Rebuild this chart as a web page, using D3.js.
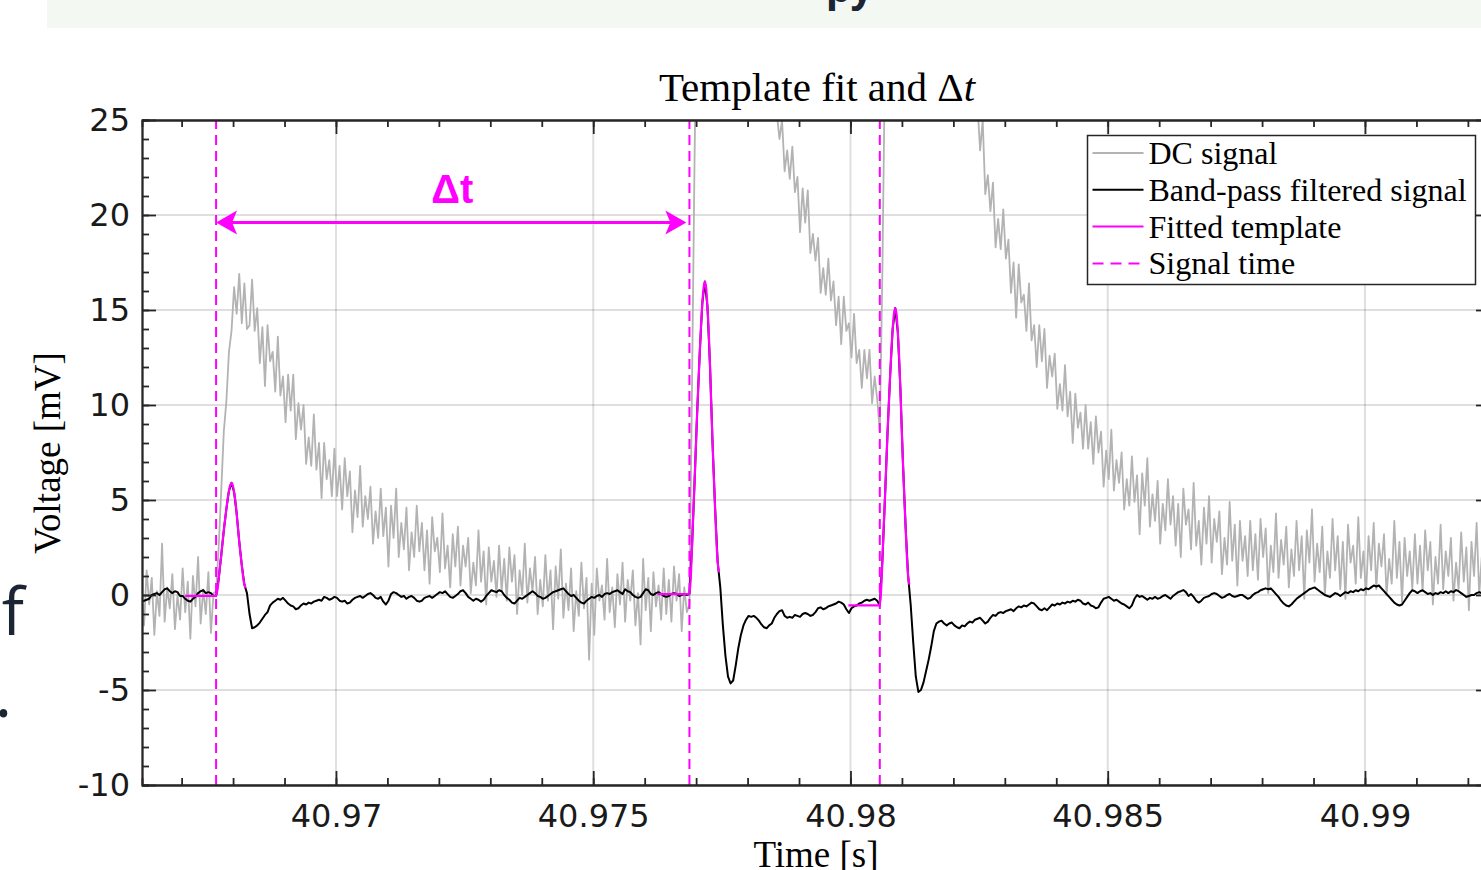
<html>
  <head>
    <title>Template fit and Δt</title>
    <meta charset="utf-8" />
    <script src="https://cdnjs.cloudflare.com/ajax/libs/d3/7.8.5/d3.min.js"></script>
    <style>
      body { margin: 0; background: #fff; }
      svg { display: block; }
      .serif { font-family: "Liberation Serif", "Times New Roman", serif; fill: #000; }
    </style>
  </head>
  <body>
    <svg width="1481" height="870"></svg>
  <script>
    // sample clock of the recording (one value every 50 us)
    const t0 = 40.96622, dt = 0.00005;

    // DC signal [mV]
    const dcSignal = [
      0.6, -1.6, 1.3, -0.5, 0.9, -2.1, 0.2, -1.1, 2.7, -1.4, 0.4, -0.7, 1.1, -1.8, 0.0, -1.3, 1.4, -0.9, 0.7, -2.3,
      1.0, -0.6, 2.0, -1.5, 0.3, -1.0, 1.2, -2.0, 0.1,
      0.2, 2.5, 5.5, 8.6, 10.2, 12.8, 13.9, 16.2, 14.8, 16.9, 14.3, 16.4, 14.0,
      14.2, 16.6, 13.9, 15.1, 12.2, 14.1, 11.0, 14.2, 12.3, 12.8,
      10.7, 13.6, 10.5, 11.5, 9.1, 11.6, 9.7, 11.6, 8.2, 10.1,
      8.7, 10.0, 6.9, 8.3, 6.8, 9.5, 6.6, 8.0, 5.1, 8.0,
      6.1, 7.1, 5.2, 7.7, 5.2, 6.8, 4.5, 7.2, 5.2, 6.5,
      3.3, 5.5, 4.1, 6.8, 3.6, 5.2, 4.0, 5.7, 2.7, 4.4,
      3.0, 5.6, 3.1, 4.6, 1.5, 4.7, 3.0, 5.6, 2.0, 3.8,
      2.4, 4.6, 1.3, 3.3, 2.0, 4.7, 2.3, 3.8, 1.3, 3.4,
      0.6, 4.1, 2.3, 3.0, 1.2, 4.3, 1.4, 2.6, 0.4, 3.2,
      1.5, 3.6, 0.5, 2.6, 1.5, 3.0, 0.1, 1.7, 0.5, 3.4,
      0.7, 2.3, -0.5, 2.5, 0.7, 1.8, -0.1, 2.6, 0.2, 1.9,
      -0.3, 2.5, 0.7, 2.1, -1.0, 1.3, 0.0, 2.7, -0.4, 1.4,
      0.2, 2.0, -1.0, 0.8, -0.6, 2.1, -0.3, 1.3, -1.8, 1.5,
      -0.2, 2.4, -1.2, 0.6, -0.8, 1.4, -1.9, 0.2, -1.1, 1.7,
      -0.7, 0.9, -3.4, 0.6, -2.1, 1.4, -0.3, 0.5, -1.3, 1.9,
      -0.9, 0.4, -1.7, 1.1, -0.5, 1.7, -1.4, 0.8, -0.3, 1.3,
      -1.6, 0.1, -2.6, 1.9, -0.8, 0.9, -1.9, 1.2, -0.6, 0.5,
      -1.3, 1.4, -1.0, 0.8, -1.4, 1.5, -0.3, 1.1, -1.9, 0.4,
      -0.9,
      -0.5, 11.0, 23.0, 33.0,
      37, 39, 36, 38, 35, 37, 34, 36, 33, 35, 32, 34, 31, 33, 30.5, 32, 29.5, 31, 29, 30.5,
      28, 29.5, 27.5, 29, 27, 28, 26.5, 27.5, 26, 27,
      25.3, 24.0, 25.0, 22.3, 23.4, 21.9, 23.6, 21.2, 22.0, 19.1,
      21.4, 19.6, 21.3, 18.0, 19.0, 17.6, 18.8, 15.9, 17.2, 15.8,
      17.7, 15.5, 16.5, 14.2, 15.7, 13.2, 15.7, 13.9, 14.3, 12.5,
      14.8, 12.2, 12.9, 10.9, 12.9, 11.4, 12.9, 10.1, 11.5, 10.3,
      8.6, 17.0, 28.0,
      40, 42, 39, 41, 38, 40, 37, 39, 36, 38, 35.5, 37, 35, 36.5, 34, 35.5, 33, 34.5, 32, 33.5,
      31, 32.5, 30.5, 31.5, 29.5, 31, 29, 30, 28, 29.5, 27.5, 28.5, 27, 28, 26.5,
      25.7, 23.4, 25.0, 21.1, 22.1, 20.2, 21.7, 18.3, 19.8, 18.2,
      20.3, 17.7, 18.7, 15.9, 17.5, 14.6, 17.4, 15.4, 15.8, 13.9,
      16.4, 13.4, 14.2, 12.0, 14.2, 12.3, 14.0, 10.9, 12.6, 11.5,
      12.7, 9.8, 11.1, 9.7, 12.1, 9.4, 10.7, 8.0, 10.6, 8.8,
      9.6, 7.7, 10.0, 7.7, 9.1, 6.9, 9.4, 7.5, 8.6, 5.7,
      7.6, 6.1, 8.7, 5.5, 7.1, 5.9, 7.5, 4.5, 6.1, 4.7,
      7.3, 4.9, 6.3, 3.2, 6.4, 4.7, 7.2, 3.6, 5.3, 3.9,
      6.0, 2.7, 4.8, 3.4, 6.1, 3.7, 5.2, 2.6, 4.8, 2.0,
      5.6, 3.7, 4.5, 2.4, 5.9, 2.6, 3.9, 1.6, 4.6, 2.7,
      5.2, 1.7, 4.0, 2.8, 4.4, 1.1, 3.0, 1.6, 4.9, 1.8,
      3.7, 0.5, 3.9, 1.8, 3.1, 1.0, 3.9, 1.3, 3.2, 0.8,
      4.0, 2.0, 3.5, 0.1, 2.6, 1.2, 4.3, 0.9, 2.9, 1.6,
      3.6, 0.4, 2.4, 1.0, 3.9, 1.3, 3.1, -0.2, 3.4, 1.7,
      4.5, 0.7, 2.7, 1.2, 3.6, 0.0, 2.3, 0.9, 4.0, 1.3,
      3.1, 0.3, 2.8, -0.2, 3.7, 1.7, 2.6, 0.6, 4.1, 0.9,
      2.3, 0.0, 3.1, 1.3, 3.8, 0.3, 2.7, 1.5, 3.2, 0.0,
      1.9, 0.6, 3.9, 0.9, 2.8, -0.4, 3.0, 1.0, 2.3, 0.3,
      3.2, 0.6, 2.6, 0.2, 3.4, 1.3, 2.8, -0.5, 2.0, 0.6,
      3.7, 0.3, 2.3, 1.0, 3.0, -0.3, 1.7, 0.3, 3.3, 0.7,
      2.5, -0.8, 2.8, 1.0, 3.8, 0.0, 2.0, 0.4, 2.8, -0.7
    ];

    // band-pass filtered signal [mV], same clock
    const bandPass = [
      -0.35, -0.3, -0.25, -0.2, 0.0, 0.05, 0.1, 0.0, 0.15, 0.3, 0.35, 0.2, 0.1, 0.2, 0.15, -0.05, -0.05, -0.2, -0.3, -0.35,
      -0.2, -0.1, 0.1, 0.2, 0.25, 0.1, 0.15, 0.1, -0.05,
      -0.05, 0.84, 2.09, 3.40, 4.53, 5.48, 5.90, 5.42, 4.29, 2.81, 1.56, 0.55,
      0.1, -1.0, -1.75, -1.7, -1.6, -1.45, -1.25, -1.05, -0.9, -0.55, -0.4, -0.3, -0.2, -0.25, -0.15, -0.3, -0.45, -0.55, -0.6, -0.75,
      -0.7, -0.55, -0.45, -0.5, -0.4, -0.45, -0.35, -0.3, -0.25, -0.3, -0.1, -0.15, -0.25, -0.2, -0.1, -0.15, -0.3, -0.35, -0.3, -0.45,
      -0.4, -0.25, -0.15, -0.1, -0.05, -0.15, -0.05, 0.05, 0.1, 0.0, -0.15, -0.2, -0.1, -0.35, -0.5, -0.3, 0.05, 0.15, 0.1, 0.0,
      -0.1, -0.05, -0.2, -0.1, -0.05, -0.15, -0.3, -0.35, -0.3, -0.15, -0.1, -0.05, -0.15, -0.05, 0.05, 0.15, 0.1, 0.2, 0.05, -0.1,
      -0.15, -0.05, 0.05, 0.2, 0.25, 0.1, -0.1, -0.2, -0.3, -0.2, -0.25, -0.35, -0.25, -0.05, 0.1, 0.25, 0.2, 0.15, 0.25, 0.2,
      0.0, -0.15, -0.25, -0.4, -0.45, -0.3, -0.15, -0.2, -0.1, 0.0, 0.1, 0.2, 0.1, -0.05, -0.1, -0.2, -0.15, -0.05, 0.05, 0.15,
      0.2, 0.25, 0.3, 0.35, 0.2, 0.05, -0.05, 0.0, -0.15, -0.3, -0.4, -0.45, -0.3, -0.2, -0.1, -0.15, -0.05, 0.0, -0.1, 0.05,
      0.1, 0.05, 0.15, 0.2, 0.25, 0.15, 0.05, 0.3, 0.2, 0.15, 0.0, -0.1, -0.15, -0.1, 0.1, 0.3, 0.25, 0.05, 0.0, 0.1,
      0.15, 0.05, -0.05, -0.1, -0.05, 0.05, 0.1, 0.05, -0.05, 0.0, 0.05, 0.0,
      0.05, 2.52, 5.97, 9.59, 12.72, 15.35, 16.50, 15.18, 12.06, 7.95, 4.49, 1.70,
      0.4, -1.6, -3.2, -4.3, -4.65, -4.5, -3.7, -2.8, -2.1, -1.6, -1.3, -1.1, -1.15, -1.1, -1.2, -1.35, -1.55, -1.7, -1.75, -1.6,
      -1.5, -1.2, -1.0, -0.85, -0.8, -1.1, -1.2, -1.15, -1.2, -1.05, -1.1, -1.15, -1.0, -0.95, -1.0, -1.1, -1.05, -0.9, -0.7, -0.65,
      -0.75, -0.7, -0.6, -0.55, -0.5, -0.45, -0.35, -0.4, -0.5, -0.75, -0.95, -0.7, -0.6, -0.55, -0.45, -0.4, -0.3, -0.25, -0.3, -0.25,
      -0.2, -0.3,
      -0.55, 1.80, 5.08, 8.53, 11.50, 14.00, 15.10, 13.85, 10.87, 6.96, 3.68, 1.02,
      -0.5, -2.5, -4.3, -5.1, -5.0, -4.6, -4.0, -3.4, -2.7, -1.9, -1.5, -1.4, -1.35, -1.5, -1.6, -1.5, -1.45, -1.6, -1.7, -1.75,
      -1.6, -1.65, -1.5, -1.4, -1.45, -1.3, -1.25, -1.2, -1.35, -1.5, -1.4, -1.2, -1.05, -1.1, -0.95, -0.9, -0.95, -0.85, -0.8, -0.75,
      -0.85, -0.7, -0.6, -0.65, -0.55, -0.6, -0.5, -0.4, -0.45, -0.6, -0.75, -0.8, -0.7, -0.8, -0.65, -0.5, -0.55, -0.45, -0.5, -0.4,
      -0.45, -0.35, -0.4, -0.3, -0.35, -0.25, -0.3, -0.45, -0.5, -0.4, -0.55, -0.6, -0.7, -0.65, -0.4, -0.2, -0.15, -0.1, -0.2, -0.3,
      -0.25, -0.35, -0.45, -0.5, -0.6, -0.7, -0.55, -0.2, 0.0, -0.1, -0.05, -0.15, -0.25, -0.15, -0.2, -0.1, -0.2, -0.15, -0.05, 0.0,
      -0.1, -0.2, -0.05, 0.05, 0.15, 0.2, 0.26, 0.15, -0.05, 0.05, -0.1, -0.3, -0.4, -0.3, -0.15, -0.1, -0.05, 0.05, 0.1, 0.05,
      -0.05, -0.15, -0.1, 0.0, 0.05, -0.05, -0.1, -0.05, 0.0, 0.0, -0.1, -0.2, -0.15, 0.0, 0.1, 0.15, 0.25, 0.3, 0.35, 0.3,
      0.35, 0.2, 0.05, -0.1, -0.3, -0.45, -0.55, -0.6, -0.5, -0.35, -0.2, -0.1, 0.0, 0.1, 0.2, 0.3, 0.35, 0.4, 0.3, 0.2,
      0.1, 0.0, -0.05, -0.1, 0.0, 0.1, 0.05, -0.05, 0.05, 0.15, 0.1, 0.2, 0.15, 0.25, 0.2, 0.3, 0.25, 0.35, 0.3, 0.4,
      0.5, 0.45, 0.5, 0.35, 0.2, 0.05, -0.1, -0.25, -0.4, -0.5, -0.55, -0.5, -0.3, -0.1, 0.1, 0.25, 0.2, 0.1, 0.2, 0.25,
      0.15, 0.05, 0.1, 0.0, 0.1, 0.05, 0.15, 0.1, 0.2, 0.1, 0.2, 0.15, 0.26, 0.2, 0.1, 0.0, -0.1, -0.05, 0.0, 0.0,
      0.1, 0.15, 0.1, 0.2, 0.15, 0.1
    ];

    // detected signal times [s] and fitted templates
    const signalTimes = [40.96767, 40.97687, 40.98057];
    const templateStart = [40.96707, 40.97625, 40.97996];
    const templateDt = 0.000025;
    const template1 = [-0.05, 0.25, 0.84, 1.50, 2.09, 2.75, 3.40, 3.97, 4.53, 5.07, 5.48, 5.78, 5.90, 5.78, 5.42, 4.95, 4.29, 3.52, 2.81, 2.15, 1.56, 0.96, 0.55, 0.37];
    const template2 = [0.05, 0.87, 2.52, 4.33, 5.97, 7.78, 9.59, 11.15, 12.72, 14.20, 15.35, 16.17, 16.50, 16.17, 15.18, 13.87, 12.06, 9.92, 7.95, 6.14, 4.49, 2.85, 1.70, 1.20];
    const template3 = [-0.55, 0.23, 1.80, 3.52, 5.08, 6.81, 8.53, 10.01, 11.50, 12.91, 14.00, 14.79, 15.10, 14.79, 13.85, 12.60, 10.87, 8.84, 6.96, 5.24, 3.68, 2.11, 1.02, 0.55];

    // delta t arrow
    const arrowTimes = [40.96767, 40.97681];
    const arrowLevel = 19.6;

    const xTicks = [40.97, 40.975, 40.98, 40.985, 40.99];
    const xTickLabels = ["40.97", "40.975", "40.98", "40.985", "40.99"];
    const yTicks = [-10, -5, 0, 5, 10, 15, 20, 25];
    const yTickLabels = ["-10", "-5", "0", "5", "10", "15", "20", "25"];
    const legendLabels = ["DC signal", "Band-pass filtered signal", "Fitted template", "Signal time"];

    const svg = d3.select("svg");
    const margin = { top: 120, left: 142 },
      plotW = 1348,
      plotH = 665;

    const x = d3.scaleLinear().domain([40.96623, 40.99243]).range([margin.left, margin.left + plotW]);
    const y = d3.scaleLinear().domain([-10, 25]).range([margin.top + plotH, margin.top]);

    // bits of the slide around the figure
    svg.append("rect").attr("x", 47).attr("y", 0).attr("width", 1434).attr("height", 28).attr("fill", "#f3f8f2");
    svg.append("text").attr("x", 826).attr("y", 2)
      .attr("font-family", "Noto Sans").attr("font-weight", "bold").attr("font-size", 40)
      .attr("fill", "#1c2533").text("py");
    svg.append("text").attr("x", 24).attr("y", 635).attr("text-anchor", "end")
      .attr("font-family", "Open Sans").attr("font-size", 66).attr("fill", "#1c2533").text("of");
    svg.append("text").attr("x", 12).attr("y", 717).attr("text-anchor", "end")
      .attr("font-family", "Open Sans").attr("font-size", 66).attr("fill", "#1c2533").text("s.");

    svg.append("defs").append("clipPath").attr("id", "plot")
      .append("rect").attr("x", margin.left).attr("y", margin.top).attr("width", plotW).attr("height", plotH);

    // grid
    const grid = svg.append("g").attr("stroke", "#262626").attr("stroke-opacity", 0.15).attr("stroke-width", 2);
    grid.selectAll(".gx").data(xTicks).enter().append("line")
      .attr("x1", (d) => x(d)).attr("x2", (d) => x(d)).attr("y1", y(-10)).attr("y2", y(25));
    grid.selectAll(".gy").data(yTicks).enter().append("line")
      .attr("x1", x.range()[0]).attr("x2", x.range()[1]).attr("y1", (d) => y(d)).attr("y2", (d) => y(d));

    const plot = svg.append("g").attr("clip-path", "url(#plot)");

    const sampleLine = d3.line().x((d, i) => x(t0 + i * dt)).y((d) => y(d));

    plot.append("path").datum(dcSignal)
      .attr("d", sampleLine).attr("fill", "none").attr("stroke", "#b3b3b3")
      .attr("stroke-width", 1.8).attr("stroke-linejoin", "round");

    plot.append("path").datum(bandPass)
      .attr("d", sampleLine).attr("fill", "none").attr("stroke", "#000")
      .attr("stroke-width", 2).attr("stroke-linejoin", "round");

    const templates = [template1, template2, template3].map((vals, k) =>
      [{ t: templateStart[k], v: vals[0] }].concat(
        vals.map((v, i) => ({ t: signalTimes[k] + i * templateDt, v: v }))
      )
    );
    const tplLine = d3.line().x((d) => x(d.t)).y((d) => y(d.v)).curve(d3.curveMonotoneX);
    plot.selectAll(".tpl").data(templates).enter().append("path")
      .attr("d", tplLine).attr("fill", "none").attr("stroke", "#ff00ff").attr("stroke-width", 2.2);

    plot.selectAll(".sig").data(signalTimes).enter().append("line")
      .attr("x1", (d) => x(d)).attr("x2", (d) => x(d)).attr("y1", y(-10)).attr("y2", y(25))
      .attr("stroke", "#ff00ff").attr("stroke-width", 2).attr("stroke-dasharray", "10,6");

    // delta t arrow
    const ax0 = x(arrowTimes[0]), ax1 = x(arrowTimes[1]), ay = y(arrowLevel);
    svg.append("line").attr("x1", ax0 + 10).attr("x2", ax1 - 10).attr("y1", ay).attr("y2", ay)
      .attr("stroke", "#ff00ff").attr("stroke-width", 3);
    const head = (tip, dir) =>
      `M${tip},${ay} L${tip + dir * 21},${ay - 12} L${tip + dir * 16},${ay} L${tip + dir * 21},${ay + 12} Z`;
    svg.append("path").attr("d", head(ax0, 1)).attr("fill", "#ff00ff");
    svg.append("path").attr("d", head(ax1, -1)).attr("fill", "#ff00ff");
    svg.append("text").attr("x", (ax0 + ax1) / 2 + 1).attr("y", 203).attr("text-anchor", "middle")
      .attr("font-family", "Liberation Sans").attr("font-weight", "bold").attr("font-size", 40)
      .attr("fill", "#ff00ff").text("Δt");

    // axes, ticks pointing inward like the original
    const styleAxis = (g) => {
      g.attr("color", "#262626").attr("font-family", "DejaVu Sans").attr("font-size", 32);
      g.selectAll("line, path").attr("stroke-width", 1.8);
      g.selectAll("text").attr("fill", "#1a1a1a");
    };
    const minorX = d3.range(40.967, 40.9925, 0.001);
    const minorY = d3.range(-10, 25.5, 1);

    svg.append("g").attr("transform", `translate(0,${y(-10)})`)
      .call(d3.axisBottom(x).tickValues(minorX).tickSize(-7).tickFormat("")).call(styleAxis);
    svg.append("g").attr("transform", `translate(0,${y(25)})`)
      .call(d3.axisTop(x).tickValues(minorX).tickSize(-7).tickFormat("")).call(styleAxis);
    svg.append("g").attr("transform", `translate(${x.range()[0]},0)`)
      .call(d3.axisLeft(y).tickValues(minorY).tickSize(-7).tickFormat("")).call(styleAxis);
    svg.append("g").attr("transform", `translate(${x.range()[1]},0)`)
      .call(d3.axisRight(y).tickValues(minorY).tickSize(-7).tickFormat("")).call(styleAxis);

    svg.append("g").attr("transform", `translate(0,${y(-10)})`)
      .call(d3.axisBottom(x).tickValues(xTicks).tickSize(-14).tickSizeOuter(0).tickPadding(19)
        .tickFormat((d, i) => xTickLabels[i])).call(styleAxis);
    svg.append("g").attr("transform", `translate(0,${y(25)})`)
      .call(d3.axisTop(x).tickValues(xTicks).tickSize(-14).tickSizeOuter(0).tickFormat("")).call(styleAxis);
    svg.append("g").attr("transform", `translate(${x.range()[0]},0)`)
      .call(d3.axisLeft(y).tickValues(yTicks).tickSize(-14).tickSizeOuter(0).tickPadding(12)
        .tickFormat((d, i) => yTickLabels[i])).call(styleAxis);
    svg.append("g").attr("transform", `translate(${x.range()[1]},0)`)
      .call(d3.axisRight(y).tickValues(yTicks).tickSize(-14).tickSizeOuter(0).tickFormat("")).call(styleAxis);

    // labels
    const title = svg.append("text").attr("class", "serif").attr("x", 817).attr("y", 101)
      .attr("text-anchor", "middle").attr("font-size", 41);
    title.append("tspan").text("Template fit and Δ");
    title.append("tspan").attr("font-style", "italic").text("t");

    svg.append("text").attr("class", "serif").attr("x", 816).attr("y", 867)
      .attr("text-anchor", "middle").attr("font-size", 37).text("Time [s]");
    svg.append("text").attr("class", "serif").attr("transform", "translate(60,453) rotate(-90)")
      .attr("text-anchor", "middle").attr("font-size", 37).text("Voltage [mV]");

    // legend
    const legend = svg.append("g").attr("transform", "translate(1087.5,135.5)");
    legend.append("rect").attr("width", 388).attr("height", 149)
      .attr("fill", "#fff").attr("stroke", "#262626").attr("stroke-width", 1.5);
    const legendStyle = [
      { stroke: "#b3b3b3", dash: null },
      { stroke: "#000", dash: null },
      { stroke: "#ff00ff", dash: null },
      { stroke: "#ff00ff", dash: "11,7" }
    ];
    const rows = legend.selectAll(".row").data(legendLabels).enter().append("g")
      .attr("transform", (d, i) => `translate(0,${17.5 + i * 36.8})`);
    rows.append("line").attr("x1", 5).attr("x2", 56).attr("y1", 0).attr("y2", 0)
      .attr("stroke", (d, i) => legendStyle[i].stroke).attr("stroke-width", 2)
      .attr("stroke-dasharray", (d, i) => legendStyle[i].dash);
    rows.append("text").attr("class", "serif").attr("x", 61).attr("y", 11)
      .attr("font-size", 32).text((d) => d);
  </script>
  </body>
</html>
